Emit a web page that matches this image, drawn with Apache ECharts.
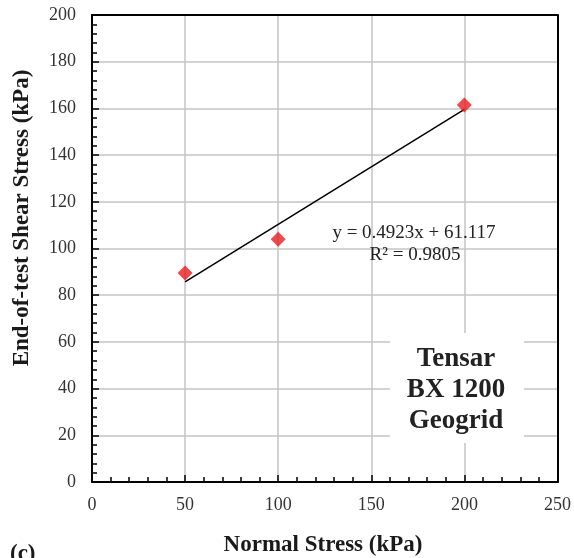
<!DOCTYPE html>
<html>
<head>
<meta charset="utf-8">
<script src="https://cdn.jsdelivr.net/npm/echarts@6/dist/echarts.min.js"></script>
<style>html,body{margin:0;padding:0;background:#fff;}#c{width:574px;height:558px;}</style>
</head>
<body>
<div id="c"></div>
<script>
const normalStress = [50, 100, 200];
const shearStress = [89.5, 104, 161.5];
const trendX = [50, 200];
const trendSlope = 0.4923;
const trendIntercept = 61.117;
const xTicks = [0, 50, 100, 150, 200, 250];
const yTicks = [0, 20, 40, 60, 80, 100, 120, 140, 160, 180, 200];

const font = 'Liberation Serif';
const frameAxis = {
  type: 'value', axisLine: { show: true, onZero: false, lineStyle: { color: '#000', width: 2 } },
  axisTick: { show: false }, axisLabel: { show: false }, splitLine: { show: false }
};
const chart = echarts.init(document.getElementById('c'));
chart.setOption({
  animation: false,
  grid: { left: 92, right: 14, top: 15, bottom: 76 },
  xAxis: [{
    type: 'value', min: xTicks[0], max: xTicks[xTicks.length - 1], interval: 50,
    axisLine: { show: true, onZero: false, lineStyle: { color: '#000', width: 2 } },
    axisTick: { show: true, inside: true, length: 7, lineStyle: { color: '#000', width: 1.5 } },
    minorTick: { show: true, splitNumber: 5, length: 5, lineStyle: { color: '#000', width: 1.5 } },
    axisLabel: { fontFamily: font, fontSize: 18, color: '#333', margin: 14 },
    splitLine: { show: true, lineStyle: { color: '#c4c4c4', width: 1.5 } }
  }, Object.assign({}, frameAxis, { position: 'top', min: 0, max: 250 })],
  yAxis: [{
    type: 'value', min: yTicks[0], max: yTicks[yTicks.length - 1], interval: 20,
    axisLine: { show: true, onZero: false, lineStyle: { color: '#000', width: 2 } },
    axisTick: { show: true, inside: true, length: 7, lineStyle: { color: '#000', width: 1.5 } },
    minorTick: { show: true, splitNumber: 5, length: 5, lineStyle: { color: '#000', width: 1.5 } },
    axisLabel: { fontFamily: font, fontSize: 18, color: '#333', margin: 16 },
    splitLine: { show: true, lineStyle: { color: '#c4c4c4', width: 1.5 } }
  }, Object.assign({}, frameAxis, { position: 'right', min: 0, max: 200 })],
  series: [
    {
      type: 'line', data: trendX.map(x => [x, trendSlope * x + trendIntercept]),
      symbol: 'none', lineStyle: { color: '#000', width: 1.5 }, z: 3
    },
    {
      type: 'scatter', data: normalStress.map((x, i) => [x, shearStress[i]]),
      symbol: 'diamond', symbolSize: [15, 15], itemStyle: { color: '#ee1c1c' }, z: 4
    }
  ],
  graphic: [
    { type: 'rect', shape: { x: 390, y: 333, width: 134, height: 110 }, style: { fill: '#fff' }, z: 10 },
    { type: 'text', x: 456, y: 390, z: 11, style: { text: 'Tensar\nBX 1200\nGeogrid', fontFamily: font, fontWeight: 'bold', fontSize: 27, lineHeight: 31, fill: '#222', align: 'center', verticalAlign: 'middle' } },
    { type: 'text', x: 414, y: 233, z: 11, style: { text: 'y = 0.4923x + 61.117', fontFamily: font, fontSize: 19, fill: '#222', align: 'center', verticalAlign: 'middle' } },
    { type: 'text', x: 415, y: 255, z: 11, style: { text: 'R² = 0.9805', fontFamily: font, fontSize: 19, fill: '#222', align: 'center', verticalAlign: 'middle' } },
    { type: 'text', x: 323, y: 545, z: 11, style: { text: 'Normal Stress (kPa)', fontFamily: font, fontWeight: 'bold', fontSize: 23, fill: '#1a1a1a', align: 'center', verticalAlign: 'middle' } },
    { type: 'text', x: 22, y: 218, rotation: Math.PI / 2, z: 11, style: { text: 'End-of-test Shear Stress (kPa)', fontFamily: font, fontWeight: 'bold', fontSize: 23, fill: '#1a1a1a', align: 'center', verticalAlign: 'middle' } },
    { type: 'text', x: 10, y: 566, z: 11, style: { text: '(c)', fontFamily: font, fontWeight: 'bold', fontSize: 23, fill: '#1a1a1a', align: 'left', verticalAlign: 'bottom' } }
  ]
});
</script>
</body>
</html>
